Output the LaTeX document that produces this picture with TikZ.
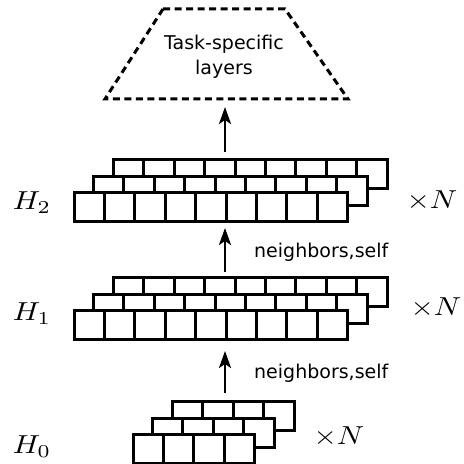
\documentclass[tikz,border=0pt]{standalone}
\usepackage{amsmath}
\usepackage{graphicx}
\usepackage{fontspec}
\newfontfamily\labelfont{DejaVu Sans}
\usetikzlibrary{arrows.meta,positioning}

% one row of cells, bottom-left corner at (#1,#2), #3 cells
\newcommand{\cellrow}[3]{%
	\draw[cellline,fill=white] (#1,#2) rectangle ++({#3*30.4},29);
	\foreach \k in {1,...,#3}
		\draw[cellline] ({#1+\k*30.4},#2) -- ++(0,29);
}
% three stacked rows of one layer
\newcommand{\layerstack}[3]{%
	\cellrow{#1+39.5}{#2+33}{#3}
	\cellrow{#1+19.5}{#2+16.5}{#3}
	\cellrow{#1}{#2}{#3}
}
\newcommand{\biglabel}[1]{\scalebox{3.0}[2.6]{$#1$}}

\begin{document}
\begin{tikzpicture}[
				x = 1pt, y = 1pt,
				cellline/.style = {line width = 3pt},
				flow/.style = {line width = 2.8pt, -{Stealth[length=17pt,width=12pt,inset=4pt]}},
				mathlabel/.style = {inner sep = 0pt},
				textlabel/.style = {font = \labelfont\fontsize{19}{25}\selectfont, inner sep = 0pt}
			]

			\useasboundingbox (0,0) rectangle (464,464);

			% layers
			\layerstack{74}{242}{9}
			\layerstack{74}{124}{9}
			\layerstack{133}{0}{4}

			\node[mathlabel] (h2) at (32,261) {\biglabel{H_2}};
			\node[mathlabel] (h1) at (32,150) {\biglabel{H_1}};
			\node[mathlabel] (h0) at (32,17) {\biglabel{H_0}};

			\node[mathlabel] (n2) at (432,263) {\biglabel{\times N}};
			\node[mathlabel] (n1) at (436,156) {\biglabel{\times N}};
			\node[mathlabel] (n0) at (339,27) {\biglabel{\times N}};

			% task-specific head
			\draw[line width = 3pt, dash pattern = on 7pt off 4.5pt]
				(163,455) -- (285,455) -- (348,365) -- (105,365) -- cycle;
			\node[textlabel, align = center] (task) at (224,407) {Task-specific\\layers};

			% connections
			\coordinate (a0s) at (225,71);
			\coordinate (a0e) at (225,113);
			\coordinate (a1s) at (225,192);
			\coordinate (a1e) at (225,236);
			\coordinate (a2s) at (225,312);
			\coordinate (a2e) at (225,357);

			\draw[flow] (a0s) -- (a0e);
			\draw[flow] (a1s) -- (a1e);
			\draw[flow] (a2s) -- (a2e);

			\node[textlabel, anchor = west] (lab0) at (254,91) {neighbors,self};
			\node[textlabel, anchor = west] (lab1) at (254,212) {neighbors,self};

			\end{tikzpicture}
\end{document}
